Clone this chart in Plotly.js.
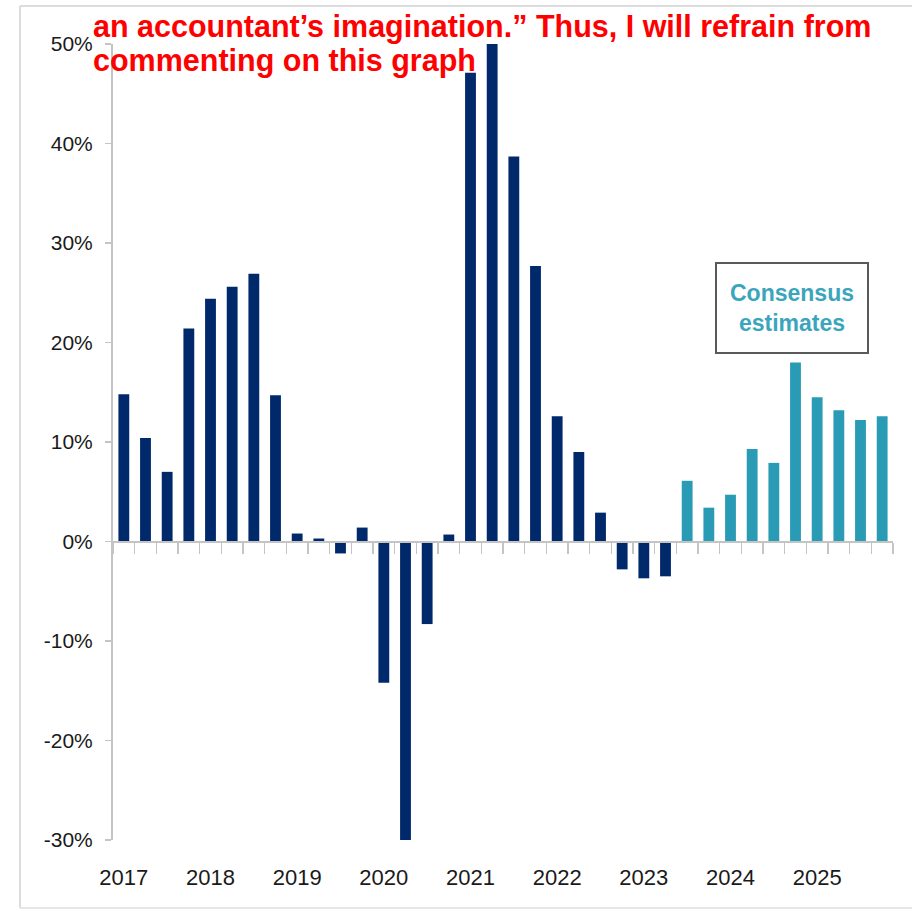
<!DOCTYPE html>
<html>
<head>
<meta charset="utf-8">
<script src="https://cdn.plot.ly/plotly-3.0.1.min.js"></script>
<style>
  html, body { margin: 0; padding: 0; background: #ffffff; }
  #chart { width: 912px; height: 911px; }
</style>
</head>
<body>
<div id="chart"></div>
<script>
// ---- data ----
const quarters = [
  "2017 Q1","2017 Q2","2017 Q3","2017 Q4",
  "2018 Q1","2018 Q2","2018 Q3","2018 Q4",
  "2019 Q1","2019 Q2","2019 Q3","2019 Q4",
  "2020 Q1","2020 Q2","2020 Q3","2020 Q4",
  "2021 Q1","2021 Q2","2021 Q3","2021 Q4",
  "2022 Q1","2022 Q2","2022 Q3","2022 Q4",
  "2023 Q1","2023 Q2","2023 Q3","2023 Q4",
  "2024 Q1","2024 Q2","2024 Q3","2024 Q4",
  "2025 Q1","2025 Q2","2025 Q3","2025 Q4"
];
const growthPct = [
  14.8, 10.4, 7.0, 21.4,
  24.4, 25.6, 26.9, 14.7,
  0.8, 0.3, -1.2, 1.4,
  -14.2, -30.4, -8.3, 0.7,
  47.1, 50.2, 38.7, 27.7,
  12.6, 9.0, 2.9, -2.8,
  -3.7, -3.5, 6.1, 3.4,
  4.7, 9.3, 7.9, 18.0,
  14.5, 13.2, 12.2, 12.6
];
const firstEstimateQuarter = "2023 Q3";
const yearLabels = ["2017","2018","2019","2020","2021","2022","2023","2024","2025"];
const yTickValues = [-30, -20, -10, 0, 10, 20, 30, 40, 50];
const yTickLabels = ["-30%","-20%","-10%","0%","10%","20%","30%","40%","50%"];
const titleLine1 = "an accountant\u2019s imagination.\u201D Thus, I will refrain from";
const titleLine2 = "commenting on this graph";
const boxText = "Consensus<br>estimates";

// ---- build traces ----
const estStart = quarters.indexOf(firstEstimateQuarter);
const idx = quarters.map((q, i) => i);
const actX = idx.filter(i => i < estStart);
const estX = idx.filter(i => i >= estStart);

const NAVY = "#00296b";
const TEAL = "#2a9bb5";

const actual = {
  type: "bar", name: "Actual",
  x: actX, y: actX.map(i => growthPct[i]),
  hovertext: actX.map(i => quarters[i]), hoverinfo: "text+y",
  marker: { color: NAVY, line: { width: 0 } },
  width: 0.5, cliponaxis: false, xaxis: "x", yaxis: "y"
};
const estimates = {
  type: "bar", name: "Consensus estimates",
  x: estX, y: estX.map(i => growthPct[i]),
  hovertext: estX.map(i => quarters[i]), hoverinfo: "text+y",
  marker: { color: TEAL, line: { width: 0 } },
  width: 0.5, cliponaxis: false, xaxis: "x", yaxis: "y"
};
// invisible helper so the zero-line axis (x2) exists
const helper = {
  type: "scatter", mode: "markers", x: [0], y: [0],
  marker: { opacity: 0 }, hoverinfo: "skip", showlegend: false,
  xaxis: "x2", yaxis: "y"
};

// ---- geometry ----
const W = 912, H = 911;
const M = { l: 113, r: 19, t: 44, b: 71 };
const plotW = W - M.l - M.r, plotH = H - M.t - M.b;
const px2x = p => (p - M.l) / plotW;
const px2y = p => (H - M.b - p) / plotH;

const yRange = [-30, 50];
const xRange = [-0.5, quarters.length - 0.5];
const zeroPos = (0 - yRange[0]) / (yRange[1] - yRange[0]);
const boundaries = idx.map(i => i - 0.5).concat([quarters.length - 0.5]);
const yearTickVals = idx.filter(i => quarters[i].endsWith("Q1"));

const AXIS_GREY = "#c4c4c4";
const FONT = "'Liberation Sans', Arial, sans-serif";

const layout = {
  width: W, height: H,
  margin: M,
  paper_bgcolor: "#ffffff", plot_bgcolor: "#ffffff",
  showlegend: false,
  barmode: "overlay",
  font: { family: FONT, color: "#222222" },
  xaxis: {
    range: xRange, fixedrange: true,
    showgrid: false, zeroline: false, showline: false,
    ticks: "", tickmode: "array",
    tickvals: yearTickVals, ticktext: yearLabels,
    tickfont: { family: FONT, size: 22, color: "#1a1a1a" },
    ticklabelstandoff: 22
  },
  xaxis2: {
    overlaying: "x", anchor: "free", position: zeroPos,
    range: xRange, fixedrange: true,
    showgrid: false, zeroline: false,
    showline: true, linecolor: AXIS_GREY, linewidth: 2,
    tickmode: "array", tickvals: boundaries,
    ticks: "outside", ticklen: 11, tickwidth: 1.5, tickcolor: AXIS_GREY,
    showticklabels: false
  },
  yaxis: {
    range: yRange, fixedrange: true,
    showgrid: false, zeroline: false,
    showline: true, linecolor: AXIS_GREY, linewidth: 2,
    tickmode: "array", tickvals: yTickValues, ticktext: yTickLabels,
    ticks: "outside", ticklen: 6, tickwidth: 1.5, tickcolor: AXIS_GREY,
    tickfont: { family: FONT, size: 21, color: "#1a1a1a" },
    ticklabelstandoff: 8
  },
  annotations: [
    {
      xref: "paper", yref: "paper",
      x: px2x(91), y: px2y(27), xanchor: "left", yanchor: "middle",
      text: "<b>" + titleLine1 + "</b>", showarrow: false,
      font: { family: "'Liberation Sans', Arial, sans-serif", size: 30.5, color: "#ff0000" }
    },
    {
      xref: "paper", yref: "paper",
      x: px2x(91), y: px2y(61), xanchor: "left", yanchor: "middle",
      text: "<b>" + titleLine2 + "</b>", showarrow: false,
      font: { family: "'Liberation Sans', Arial, sans-serif", size: 30.5, color: "#ff0000" }
    },
    {
      xref: "paper", yref: "paper",
      x: px2x(792), y: px2y(308), xanchor: "center", yanchor: "middle",
      text: "<b>" + boxText + "</b>", showarrow: false,
      width: 146, height: 84, align: "center", valign: "middle",
      bgcolor: "#ffffff", bordercolor: "#5a5a5a", borderwidth: 2, borderpad: 2,
      font: { family: FONT, size: 23, color: "#3aa5bd" }
    }
  ],
  shapes: [
    { type: "line", xref: "paper", yref: "paper", layer: "below",
      x0: px2x(20), x1: px2x(20), y0: px2y(6), y1: px2y(908),
      line: { color: "#dcdcdc", width: 2 } },
    { type: "line", xref: "paper", yref: "paper", layer: "below",
      x0: px2x(20), x1: px2x(912), y0: px2y(6), y1: px2y(6),
      line: { color: "#dcdcdc", width: 2 } },
    { type: "line", xref: "paper", yref: "paper", layer: "below",
      x0: px2x(20), x1: px2x(912), y0: px2y(908), y1: px2y(908),
      line: { color: "#e6e6e6", width: 2 } }
  ]
};

Plotly.newPlot("chart", [actual, estimates, helper], layout, { staticPlot: true, displayModeBar: false });
</script>
</body>
</html>
